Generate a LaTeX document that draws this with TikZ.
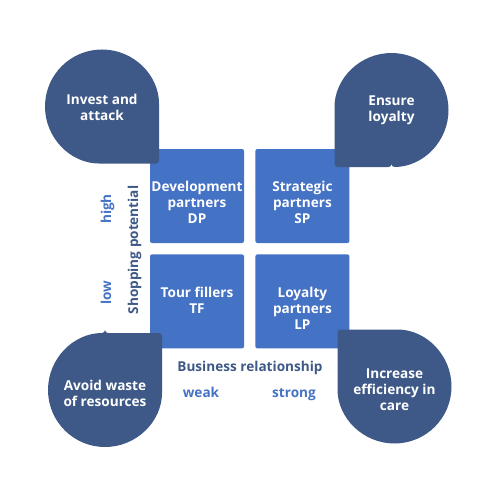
\documentclass[tikz,border=0pt]{standalone}
\usepackage{fontspec}
\setmainfont{Open Sans}
\usetikzlibrary{positioning}
\definecolor{quadblue}{HTML}{4472C4}
\definecolor{dropblue}{RGB}{62,89,135}
\newcommand{\Bold}{\bfseries\fontsize{13.6}{16}\selectfont}
\tikzset{
    drop/.pic = {
    \fill[dropblue, rounded corners=3pt] (57,0) -- (57,57) -- (0,57)
        arc[start angle=90, end angle=360, radius=57] -- cycle;
    },
    quad/.style={fill=quadblue, rounded corners=2pt, minimum size=94pt, inner sep=0pt},
    quadtext/.style={text=white, align=center, inner sep=0pt, font=\Bold},
    axis/.style={text=dropblue, inner sep=0pt, font=\Bold},
    level/.style={text=quadblue, inner sep=0pt, font=\Bold, text height=10.3pt, text depth=3.2pt},
}

\begin{document}
\begin{tikzpicture}[x=1pt, y=-1pt]
    \tikzset{
      node distance=11pt
    }
    \useasboundingbox (0,0) rectangle (500,500);

    % quadrants
    \node[quad] (dp) at (197,196) {};
    \node[quad, right=of dp] (sp) {};
    \node[quad, below=of dp] (tf) {};
    \node[quad, right=of tf] (lp) {};

    \node[quadtext, below=32.5pt of dp.north] (dptext) {Development\\partners\\DP};
    \node[quadtext, below=32.5pt of sp.north] (sptext) {Strategic\\partners\\SP};
    \node[quadtext, below=32.5pt of tf.north] (tftext) {Tour fillers\\TF};
    \node[quadtext, below=32.5pt of lp.north] (lptext) {Loyalty\\partners\\LP};

    % strategies
    \pic at (102,106.5) {drop};
    \pic[rotate=-90] at (391.5,110) {drop};
    \pic[rotate=90] at (105,390) {drop};
    \pic[rotate=180] at (394.5,386.5) {drop};

    \node[quadtext] (invest) at (102,107) {Invest and\\attack};
    \node[quadtext] (ensure) at (391.5,110) {Ensure\\loyalty};
    \node[quadtext] (avoid) at (105,393) {Avoid waste\\of resources};
    \node[quadtext] (increase) at (394.5,390) {Increase\\efficiency in\\care};

    % axes
    \node[axis, anchor=base] (business) at (250,371) {Business relationship};
    \node[level, anchor=base] (weak) at (201,397) {weak};
    \node[level, anchor=base] (strong) at (294,397) {strong};

    \node[axis, rotate=90] (shopping) at (134.5,250) {Shopping potential};
    \node[level, rotate=90] (high) at (107.5,209) {high};
    \node[level, rotate=90] (low) at (107.5,293) {low};
  \end{tikzpicture}
\end{document}
